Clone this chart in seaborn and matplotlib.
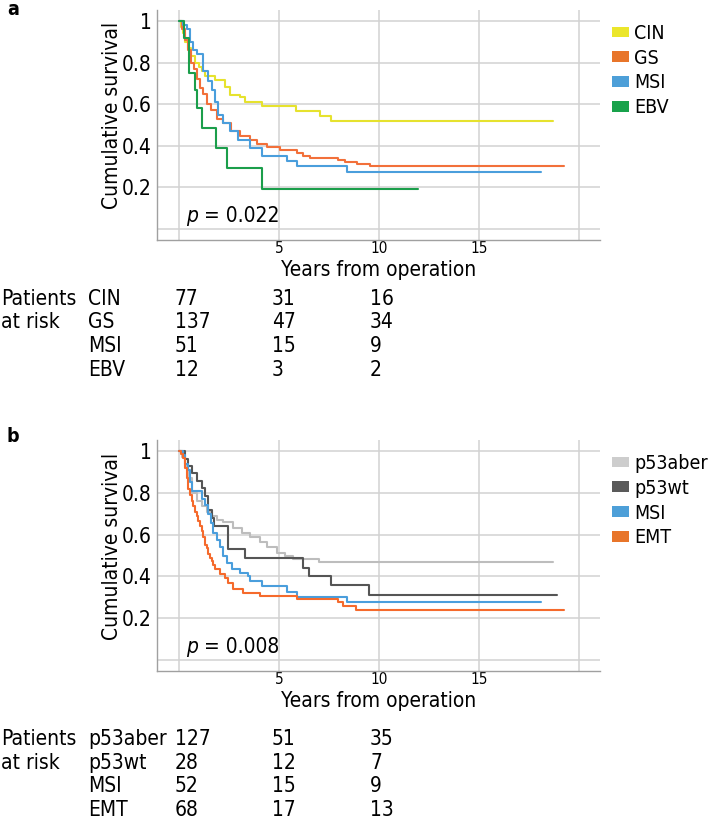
import matplotlib.pyplot as plt
import pandas as pd
import seaborn as sns
from matplotlib import font_manager
from matplotlib.patches import Patch

# --- Panel a: molecular subtypes (Kaplan-Meier steps) ---
A_GROUPS = ["CIN", "GS", "MSI", "EBV"]
A_COLORS = ["#E6E22E", "#F2703A", "#4A9EDC", "#1B9E4B"]
A_LEGEND_COLORS = ["#EBE62B", "#E8752A", "#4D9FD8", "#18A24B"]

CIN_T = [0, 0.1, 0.2, 0.3, 0.45, 0.6, 0.8, 1.0, 1.15, 1.3, 1.8, 2.3, 2.55, 3.05,
         3.3, 4.15, 5.85, 7.05, 7.6, 18.7]
CIN_S = [1, 0.97, 0.94, 0.9, 0.87, 0.83, 0.80, 0.78, 0.76, 0.735, 0.715, 0.685,
         0.645, 0.635, 0.61, 0.59, 0.567, 0.545, 0.52, 0.52]
GS_T = [0, 0.15, 0.3, 0.45, 0.6, 0.75, 0.9, 1.05, 1.2, 1.4, 1.6, 1.9, 2.2, 2.6,
        3.05, 3.55, 3.9, 4.4, 5.05, 5.9, 6.2, 6.55, 7.95, 8.3, 8.9, 9.55, 19.25]
GS_S = [1, 0.96, 0.91, 0.86, 0.80, 0.77, 0.72, 0.68, 0.65, 0.60, 0.57, 0.53, 0.51,
        0.47, 0.445, 0.43, 0.41, 0.395, 0.38, 0.364, 0.352, 0.342, 0.332, 0.32,
        0.312, 0.304, 0.304]
MSI_A_T = [0, 0.2, 0.38, 0.55, 0.72, 0.88, 1.2, 1.47, 1.63, 1.8, 1.97, 2.2, 2.55,
           2.97, 3.55, 4.13, 5.4, 5.9, 8.4, 18.1]
MSI_A_S = [1, 0.98, 0.96, 0.90, 0.86, 0.84, 0.76, 0.71, 0.67, 0.61, 0.55, 0.51,
           0.47, 0.43, 0.39, 0.353, 0.327, 0.303, 0.275, 0.275]
EBV_T = [0, 0.27, 0.5, 0.8, 0.9, 1.15, 1.85, 2.4, 4.15, 11.95]
EBV_S = [1, 0.917, 0.75, 0.667, 0.583, 0.486, 0.389, 0.292, 0.194, 0.194]

A_RISK_CIN = [77, 31, 16]
A_RISK_GS = [137, 47, 34]
A_RISK_MSI = [51, 15, 9]
A_RISK_EBV = [12, 3, 2]
A_PVALUE = "0.022"

# --- Panel b: p53 / EMT subtypes ---
B_GROUPS = ["p53aber", "p53wt", "MSI", "EMT"]
B_COLORS = ["#BDBDBD", "#555555", "#4A9EDC", "#F56A2C"]
B_LEGEND_COLORS = ["#CDCDCD", "#5A5A5A", "#4D9FD8", "#E8752A"]

P53ABER_T = [0, 0.15, 0.3, 0.47, 0.63, 0.88, 1.13, 1.38, 1.63, 1.88, 2.2, 2.7,
             3.13, 3.55, 4.05, 4.4, 4.9, 5.3, 5.7, 7.0, 18.7]
P53ABER_S = [1, 0.97, 0.93, 0.87, 0.80, 0.76, 0.735, 0.71, 0.69, 0.67, 0.66, 0.63,
             0.61, 0.59, 0.565, 0.54, 0.513, 0.497, 0.481, 0.468, 0.468]
P53WT_T = [0, 0.3, 0.47, 0.63, 0.88, 1.13, 1.3, 1.47, 1.63, 1.75, 2.47, 3.3, 6.18,
           6.5, 7.6, 9.5, 18.9]
P53WT_S = [1, 0.964, 0.929, 0.893, 0.857, 0.821, 0.786, 0.72, 0.68, 0.64, 0.53,
           0.49, 0.441, 0.401, 0.357, 0.311, 0.311]
MSI_B_T = [0, 0.2, 0.3, 0.47, 0.55, 0.63, 1.13, 1.3, 1.47, 1.6, 1.72, 1.88, 2.05,
           2.2, 2.4, 2.63, 3.05, 3.47, 3.55, 4.13, 5.4, 5.9, 8.4, 18.1]
MSI_B_S = [1, 0.98, 0.94, 0.91, 0.85, 0.81, 0.77, 0.74, 0.70, 0.655, 0.61, 0.576,
           0.54, 0.497, 0.465, 0.433, 0.417, 0.401, 0.378, 0.354, 0.327, 0.303,
           0.278, 0.278]
EMT_T = [0, 0.1, 0.22, 0.3, 0.38, 0.47, 0.55, 0.63, 0.72, 0.8, 0.9, 0.97, 1.05,
         1.13, 1.22, 1.3, 1.38, 1.47, 1.55, 1.63, 1.72, 1.8, 2.05, 2.3, 2.47, 2.72,
         3.22, 4.05, 5.9, 7.97, 8.2, 8.85, 19.27]
EMT_S = [1, 0.985, 0.965, 0.92, 0.87, 0.82, 0.79, 0.76, 0.735, 0.71, 0.69, 0.665,
         0.64, 0.616, 0.59, 0.552, 0.537, 0.505, 0.49, 0.475, 0.455, 0.433, 0.41,
         0.394, 0.37, 0.338, 0.322, 0.306, 0.29, 0.275, 0.259, 0.24, 0.24]

B_RISK_P53ABER = [127, 51, 35]
B_RISK_P53WT = [28, 12, 7]
B_RISK_MSI = [52, 15, 9]
B_RISK_EMT = [68, 17, 13]
B_PVALUE = "0.008"

X_TICKS = [0, 5, 10, 15, 20]
X_TICK_LABELS = ["", "5", "10", "15", ""]
Y_TICKS = [0, 0.2, 0.4, 0.6, 0.8, 1.0]
Y_TICK_LABELS = ["", "0.2", "0.4", "0.6", "0.8", "1"]

W, H = 708, 821

sns.set_style("white")
plt.rcParams["text.color"] = "black"
plt.rcParams["axes.labelcolor"] = "black"
plt.rcParams["xtick.color"] = "black"
plt.rcParams["ytick.color"] = "black"

# The original uses a narrow sans; take a condensed face if one is installed,
# otherwise fall back to Liberation Sans at a slightly smaller size.
narrow = [f for f in font_manager.fontManager.ttflist
          if f.stretch == "condensed" and f.style == "normal" and f.weight == 400
          and "Sans" in f.name and "Mono" not in f.name]
if narrow:
    plt.rcParams["font.family"] = [narrow[0].name, "DejaVu Sans"]
    plt.rcParams["font.stretch"] = "condensed"
    SIZE, TICK_X, LEG = 15, 11, 14
else:
    plt.rcParams["font.family"] = ["Liberation Sans", "DejaVu Sans"]
    SIZE, TICK_X, LEG = 14.5, 11, 13.5


def fx(px):
    return px / W


def fy(py):
    return 1 - py / H


def km_frame(groups, times, survs):
    parts = []
    for g, t, s in zip(groups, times, survs):
        parts.append(pd.DataFrame({"time": t, "surv": s, "group": g}))
    return pd.concat(parts, ignore_index=True)


def draw_panel(fig, top_px, bottom_px, letter, letter_px, df, groups, colors,
               legend_colors, pvalue, risk, table_top_px):
    ax = fig.add_axes([fx(157), fy(bottom_px), fx(600) - fx(157),
                       (bottom_px - top_px) / H])

    sns.lineplot(data=df, x="time", y="surv", hue="group", hue_order=groups,
                 palette=colors, estimator=None, sort=False, legend=False,
                 drawstyle="steps-post", linewidth=1.5, ax=ax)

    ax.set_xlim(-1.1, 21.05)
    ax.set_ylim(-0.053, 1.053)
    ax.set_xticks(X_TICKS)
    ax.set_xticklabels(X_TICK_LABELS, fontsize=TICK_X)
    ax.set_yticks(Y_TICKS)
    ax.set_yticklabels(Y_TICK_LABELS, fontsize=SIZE)
    ax.tick_params(axis="both", length=0)
    ax.tick_params(axis="x", pad=1)
    ax.tick_params(axis="y", pad=4)

    ax.grid(True, color="#d2d2d2", linewidth=1.1)
    ax.set_axisbelow(True)
    for side in ["top", "right"]:
        ax.spines[side].set_visible(False)
    for side in ["left", "bottom"]:
        ax.spines[side].set_color("#a0a0a0")
        ax.spines[side].set_linewidth(1.0)

    ax.set_xlabel("Years from operation", fontsize=SIZE)
    ax.xaxis.set_label_coords(0.5, -0.088)
    ax.set_ylabel("Cumulative survival", fontsize=SIZE)
    ax.yaxis.set_label_coords(-0.08, 0.54)

    p_txt = ax.text(0.35, 0.032, "p", fontsize=SIZE, style="italic",
                    va="baseline")
    ax.annotate(" = " + pvalue, xy=(1, 0), xycoords=p_txt, fontsize=SIZE,
                va="bottom")

    handles = [Patch(facecolor=c, edgecolor="none", label=g)
               for g, c in zip(groups, legend_colors)]
    ax.legend(handles=handles, loc="upper left", bbox_to_anchor=(1.027, 0.94),
              frameon=False, borderpad=0, borderaxespad=0, fontsize=LEG,
              handlelength=0.88, handleheight=0.47, handletextpad=0.25,
              labelspacing=0.3)

    fig.text(fx(7), fy(letter_px), letter, fontsize=14, fontweight="bold",
             va="baseline")

    # patients-at-risk table under the x axis
    row_step = 23.5
    fig.text(fx(1), fy(table_top_px), "Patients", fontsize=SIZE, va="baseline")
    fig.text(fx(1), fy(table_top_px + row_step), "at risk", fontsize=SIZE,
             va="baseline")
    for i, (g, counts) in enumerate(zip(groups, risk)):
        y = fy(table_top_px + i * row_step)
        fig.text(fx(88), y, g, fontsize=SIZE, va="baseline")
        for col_px, n in zip([175, 272, 370], counts):
            fig.text(fx(col_px), y, str(n), fontsize=SIZE, va="baseline")
    return ax


fig = plt.figure(figsize=(W / 100, H / 100), dpi=100)

df_a = km_frame(A_GROUPS, [CIN_T, GS_T, MSI_A_T, EBV_T],
                [CIN_S, GS_S, MSI_A_S, EBV_S])
draw_panel(fig, 10, 240, "a", 15, df_a, A_GROUPS, A_COLORS, A_LEGEND_COLORS,
           A_PVALUE, [A_RISK_CIN, A_RISK_GS, A_RISK_MSI, A_RISK_EBV], 305)

df_b = km_frame(B_GROUPS, [P53ABER_T, P53WT_T, MSI_B_T, EMT_T],
                [P53ABER_S, P53WT_S, MSI_B_S, EMT_S])
draw_panel(fig, 440, 671, "b", 442, df_b, B_GROUPS, B_COLORS, B_LEGEND_COLORS,
           B_PVALUE, [B_RISK_P53ABER, B_RISK_P53WT, B_RISK_MSI, B_RISK_EMT], 745)

fig.savefig("out.png", dpi=100)
plt.close(fig)
